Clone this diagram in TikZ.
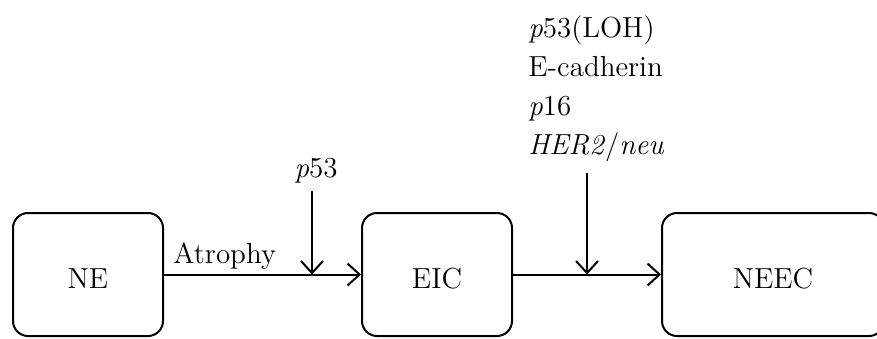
\documentclass[tikz,border=0pt]{standalone}
\usetikzlibrary{arrows.meta}
\begin{document}
\begin{tikzpicture}[x=0.5pt,y=-0.5pt,
  box/.style={draw,line width=1pt,rounded corners=7.5pt,minimum height=61.5pt,inner sep=0pt,text height=14pt,text depth=0pt,font=\fontsize{14.5}{17}\selectfont},
  arr/.style={line width=1pt,-{Straight Barb[length=6pt,width=11pt,line width=1pt]}},
  lbl/.style={inner sep=0pt,font=\fontsize{14.5}{19.5}\selectfont}]
\useasboundingbox (0,0) rectangle (877,338);
\node[box,minimum width=75pt] (NE) at (88,274.5) {NE};
\node[box,minimum width=75pt] (EIC) at (437,274.5) {EIC};
\node[box,minimum width=111pt] (NEEC) at (773,274.5) {NEEC};
\coordinate (m1) at (312,274.5);
\coordinate (m2) at (587,274.5);
\draw[arr] (NE) -- (EIC);
\draw[arr] (EIC) -- (NEEC);
\node[lbl,anchor=base west] (atr) at (173,263) {Atrophy};
\node[lbl,anchor=base] (p53) at (316,177) {\textit{p}53};
\draw[arr,shorten <=4pt] (p53.south -| m1) -- (m1);
\node[lbl,align=left,anchor=south west,text depth=0pt] (genes) at (528,155)
  {\textit{p}53(LOH)\\E-cadherin\\\textit{p}16\\\textit{HER2}/\textit{neu}};
\draw[arr,shorten <=9pt] (genes.south -| m2) -- (m2);
\end{tikzpicture}
\end{document}
